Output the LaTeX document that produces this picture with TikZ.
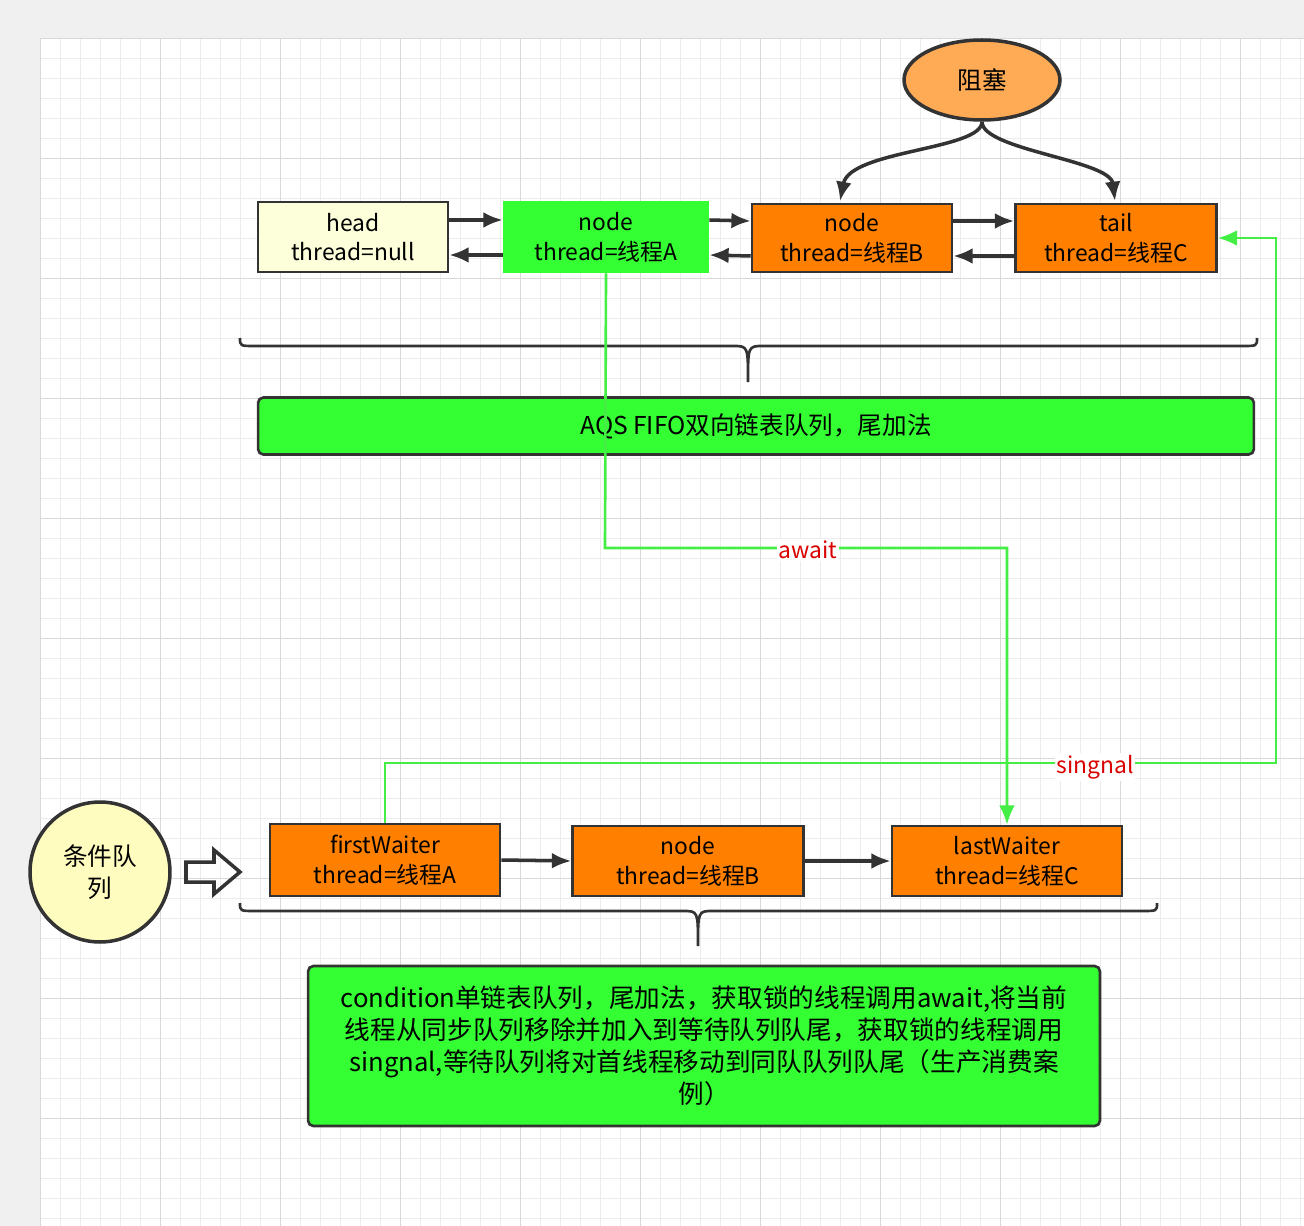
\documentclass[tikz,border=0pt]{standalone}
\usepackage{fontspec}
\setmainfont{Noto Sans CJK SC}
\usetikzlibrary{shapes.geometric,arrows.meta}
\definecolor{gr}{HTML}{33FF33}
\definecolor{org}{HTML}{FF8000}
\definecolor{dk}{HTML}{333333}
\definecolor{lg}{HTML}{44EE44}
\definecolor{lor}{HTML}{FFAA55}
\begin{document}
\begin{tikzpicture}[x=0.02cm,y=-0.02cm,
  box/.style={draw=dk,line width=1.5pt,align=center,inner sep=0pt,font=\fontsize{13}{17}\selectfont},
  ar/.style={draw=dk,line width=2pt,-{Latex[length=11pt,width=9pt]}},
  gl/.style={draw=lg,line width=1.5pt},
  br/.style={draw=dk,line width=1.5pt}]
\useasboundingbox (0,0) rectangle (1304,1226);
\fill[gray!12] (0,0) rectangle (1304,1226);
\fill[white] (40,38) rectangle (1304,1226);
\foreach \x in {40,60,...,1300} \draw[gray!15,line width=0.4pt] (\x,38) -- (\x,1226);
\foreach \y in {38,58,...,1226} \draw[gray!15,line width=0.4pt] (40,\y) -- (1304,\y);
\foreach \x in {40,160,...,1300} \draw[gray!30,line width=0.5pt] (\x,38) -- (\x,1226);
\foreach \y in {38,158,...,1226} \draw[gray!30,line width=0.5pt] (40,\y) -- (1304,\y);

\node[ellipse,draw=dk,line width=2pt,fill=lor,minimum width=3.12cm,minimum height=1.6cm,font=\fontsize{14}{17}\selectfont] (blk) at (982,80) {阻塞};
\node[box,fill=green!8!yellow!15,minimum width=3.8cm,minimum height=1.4cm] (head) at (353,237) {head\\thread=null};
\node[box,draw=gr,fill=gr,minimum width=4.08cm,minimum height=1.4cm] (na) at (606,237) {node\\thread=线程A};
\node[box,fill=org,minimum width=4cm,minimum height=1.36cm] (nb) at (852,238) {node\\thread=线程B};
\node[box,fill=org,minimum width=4.02cm,minimum height=1.36cm] (tail) at (1116,238) {tail\\thread=线程C};
\node[box,fill=gr,rounded corners=3pt,minimum width=19.92cm,minimum height=1.14cm,font=\fontsize{14}{17}\selectfont] (aqs) at (756,426) {AQS FIFO双向链表队列，尾加法};

\draw[ar] (blk.south) .. controls (982,150) and (850,150) .. (840,201);
\draw[ar] (blk.south) .. controls (982,150) and (1110,160) .. (1115,201);

\foreach \a/\b in {head/na,na/nb,nb/tail}{
  \draw[ar] ([yshift=0.34cm]\a.east) -- ([yshift=0.34cm]\b.west);
  \draw[ar] ([yshift=-0.36cm]\b.west) -- ([yshift=-0.36cm]\a.east);
}
\draw[br] (240,338) .. controls (240,346) .. (255,346) -- (733,346) .. controls (748,346) .. (748,382) .. controls (748,346) .. (763,346) -- (1242,346) .. controls (1257,346) .. (1257,338);

\node[box,fill=org,minimum width=4.6cm,minimum height=1.44cm] (fw) at (385,860) {firstWaiter\\thread=线程A};
\node[box,fill=org,minimum width=4.62cm,minimum height=1.4cm] (n2) at (688,861) {node\\thread=线程B};
\node[box,fill=org,minimum width=4.6cm,minimum height=1.4cm] (lw) at (1007,861) {lastWaiter\\thread=线程C};
\draw[ar] (fw.east) -- (n2.west);
\draw[ar] (n2.east) -- (lw.west);
\draw[br] (240,903) .. controls (240,911) .. (255,911) -- (683,911) .. controls (698,911) .. (698,946) .. controls (698,911) .. (713,911) -- (1142,911) .. controls (1157,911) .. (1157,903);

\node[circle,draw=dk,line width=2pt,fill=yellow!25,minimum size=2.8cm,align=center,font=\fontsize{14}{18}\selectfont] (cq) at (100,872) {条件队\\列};
\draw[dk,line width=2pt] (186,862) -- (214,862) -- (214,850) -- (240,872) -- (214,894) -- (214,882) -- (186,882) -- cycle;

\node[box,fill=gr,rounded corners=3pt,minimum width=15.84cm,minimum height=3.2cm,font=\fontsize{14.6}{18.2}\selectfont] (cb) at (704,1046) {condition单链表队列，尾加法，获取锁的线程调用await,将当前\\线程从同步队列移除并加入到等待队列队尾，获取锁的线程调用\\singnal,等待队列将对首线程移动到同队队列队尾（生产消费案\\例）};

\coordinate (c1) at (605,548); \coordinate (c2) at (1007,548);
\draw[gl,-{Latex[length=11pt,width=9pt]}] (na.south) -- (c1) -- (c2) -- (lw.north);
\node[fill=white,text=red!85!black,inner sep=1pt,font=\fontsize{13}{16}\selectfont] (aw) at (808,550) {await};
\coordinate (s1) at (385,763); \coordinate (s2) at (1276,763); \coordinate (s3) at (1276,238);
\draw[gl,-{Latex[length=11pt,width=9pt]}] (fw.north) -- (s1) -- (s2) -- (s3) -- (tail.east);
\node[fill=white,text=red!85!black,inner sep=1pt,font=\fontsize{13}{16}\selectfont] (sg) at (1095,767) {singnal};
\end{tikzpicture}
\end{document}
